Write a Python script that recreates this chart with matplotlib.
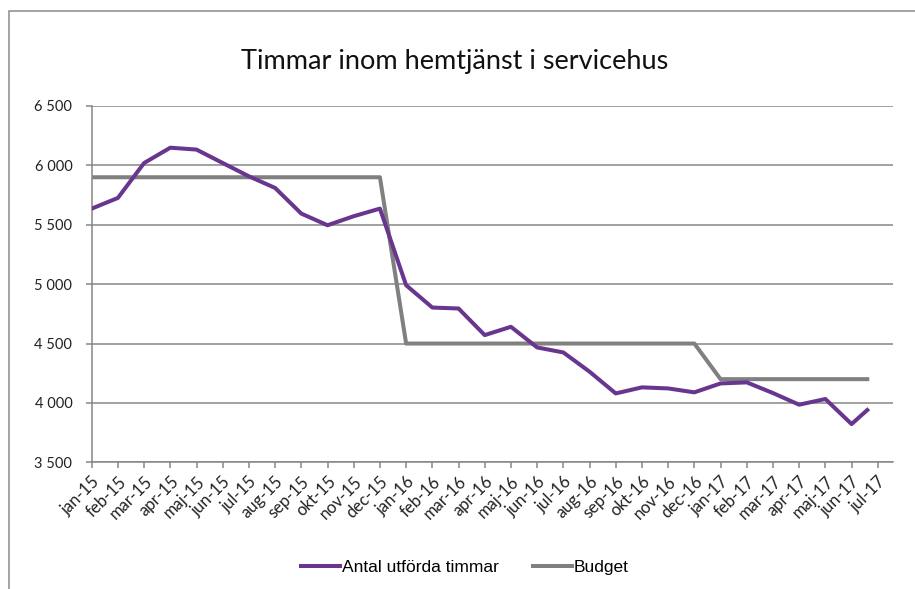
import numpy as np
import matplotlib.pyplot as plt
from matplotlib.patches import Rectangle
from matplotlib.ticker import FuncFormatter

# =====================
# DATA
# =====================

months = [
    "jan-15", "feb-15", "mar-15", "apr-15", "maj-15", "jun-15",
    "jul-15", "aug-15", "sep-15", "okt-15", "nov-15", "dec-15",
    "jan-16", "feb-16", "mar-16", "apr-16", "maj-16", "jun-16",
    "jul-16", "aug-16", "sep-16", "okt-16", "nov-16", "dec-16",
    "jan-17", "feb-17", "mar-17", "apr-17", "maj-17", "jun-17",
    "jul-17",
]

# month index of each reading (last reading sits mid-June on the date axis)
x_pos = list(range(30)) + [29.6]

utforda = [
    5636, 5726, 6020, 6149, 6133, 6020, 5908, 5810, 5594, 5496, 5572, 5636,
    4991, 4803, 4795, 4571, 4641, 4467, 4425, 4263, 4080, 4131, 4122, 4089,
    4164, 4173, 4083, 3985, 4033, 3822, 3940,
]

budget = [5900] * 12 + [4500] * 12 + [4200] * 7

# =====================
# PLOT
# =====================

W, H = 915, 589
fig = plt.figure(figsize=(W / 100, H / 100), dpi=100)
ax = fig.add_axes([91.7 / W, 1 - 462.3 / H, (892.7 - 91.7) / W, (462.3 - 106) / H])

grid_c = "#868686"

ax.plot(x_pos, utforda, color="#69368F", lw=2.9, label="Antal utförda timmar",
        solid_joinstyle="round", zorder=3)
ax.plot(x_pos, budget, color="#808080", lw=2.9, label="Budget",
        solid_joinstyle="round", zorder=2)

ax.set_ylim(3500, 6500)
ax.set_xlim(0, 30.57)
ax.set_yticks(np.arange(3500, 6501, 500))
ax.yaxis.set_major_formatter(FuncFormatter(lambda v, p: f"{int(v):,}".replace(",", " ")))
ax.set_xticks(range(len(months)))
ax.set_xticklabels(months, rotation=45, ha="right", rotation_mode="anchor")

ax.grid(axis="y", color=grid_c, lw=1.1)
ax.set_axisbelow(True)
for s in ["top", "right"]:
    ax.spines[s].set_visible(False)
for s in ["left", "bottom"]:
    ax.spines[s].set_color(grid_c)
    ax.spines[s].set_linewidth(1.1)

ax.tick_params(axis="y", length=4, width=1.1, color=grid_c, pad=10,
               labelsize=10.5, labelcolor="#222222")
ax.tick_params(axis="x", length=4, width=1.1, color=grid_c, pad=4,
               labelsize=12, labelcolor="#222222")
for lab in ax.get_xticklabels() + ax.get_yticklabels():
    lab.set_family("Lato")

fig.text(0.497, 1 - 69 / H, "Timmar inom hemtjänst i servicehus",
         ha="center", va="baseline", fontsize=19.5, family="Lato", color="#111111")

fig.legend(loc="center", bbox_to_anchor=(465 / W, 1 - 567.7 / H), ncol=2,
           frameon=False, handlelength=2.2, handletextpad=0.12, columnspacing=2.0,
           prop={"family": "Liberation Sans", "size": 12.5})

# chart area border (only left and top edges visible)
fig.patches.append(Rectangle((9 / W, -0.5), 2, 0.5 + 1 - 11 / H,
                             transform=fig.transFigure, fill=False,
                             edgecolor="#8a8a8a", lw=1.1))

fig.savefig("out.png", dpi=100)
